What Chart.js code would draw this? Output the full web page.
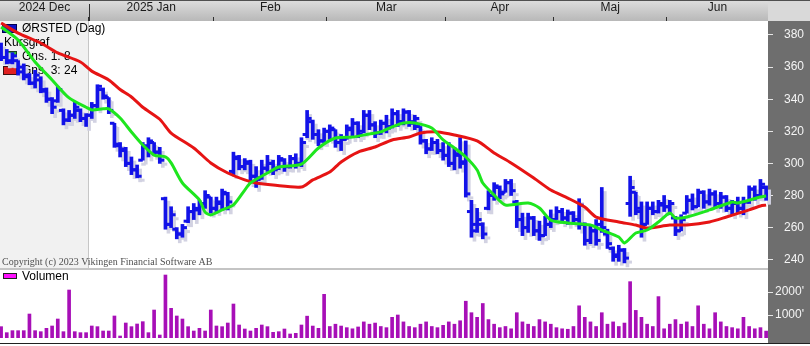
<!DOCTYPE html>
<html><head><meta charset="utf-8">
<script src="https://cdn.jsdelivr.net/npm/chart.js@4/dist/chart.umd.min.js"></script>
<style>
html,body{margin:0;padding:0;background:#fff;}
#wrap{position:relative;width:810px;height:346px;overflow:hidden;background:#fff;}
#rp{position:absolute;left:768px;top:21px;width:42px;height:322px;background:#6e6e6e;}
#corner{position:absolute;left:768px;top:0;width:42px;height:21px;background:#d9d9d9;}
#sep{position:absolute;left:0;top:268px;width:768px;height:2px;background:#c4c4c4;}
#bline{position:absolute;left:0;top:343px;width:810px;height:1px;background:#202020;}
#tline{position:absolute;left:0;top:0;width:810px;height:1px;background:#505050;}
#cp{position:absolute;left:0;top:0;}
#cv{position:absolute;left:0;top:270px;}
</style></head><body>
<div id="wrap">
<div id="corner"></div><div id="rp"></div><div id="sep"></div>
<canvas id="cp" width="810" height="270"></canvas>
<canvas id="cv" width="810" height="73"></canvas>
<div id="bline"></div><div id="tline"></div>
</div>
<script>
// ---------- data ----------
const monthLabels = ['2024 Dec','2025 Jan','Feb','Mar','Apr','Maj','Jun'];
const monthStart  = [0,16,38,58,79,98,118];   // index of first trading day of each month
const priceTicks  = [240,260,280,300,320,340,360,380];
const volumeTicks = [1000,2000];

const opens = [372,366,363,364,360,355,350,352,345,340,339,333,327,330,333,328,
 330,336,346,341,325,311,309,300,296,302,310,313,307,278,262,259,256,264,270,271,275,279,
 272,275,281,295,304,298,300,292,291,297,300,297,302,298,303,300,318,326,318,314,
 320,321,313,315,321,325,320,330,324,319,325,323,331,326,332,326,323,314,309,313,308,
 305,300,305,300,270,262,262,272,280,285,282,288,276,265,260,266,258,255,262,
 265,270,266,269,265,262,252,258,262,256,247,242,246,275,282,270,262,272,270,274,
 273,266,258,269,277,273,282,276,281,275,279,272,275,272,276,284,280,285];
const highs = [375,371,369,364,362,356,358,354,347,341,348,334,333,338,334,331,
 338,349,347,341,325,313,310,304,299,313,316,313,310,279,273,260,262,273,275,277,283,279,
 279,284,282,307,305,303,302,298,302,305,302,305,303,305,306,316,333,327,321,322,
 324,321,318,324,328,326,333,333,326,327,330,334,333,334,333,330,323,315,316,315,313,
 313,310,316,314,277,272,263,283,288,286,290,290,277,269,269,267,264,267,271,
 273,272,271,270,278,263,262,265,285,259,248,249,247,292,282,276,276,276,277,280,
 277,267,268,280,281,284,283,284,283,282,280,277,279,279,286,286,290,286];
const lows = [364,362,362,355,352,349,347,344,338,331,338,324,326,328,326,323,
 328,334,340,331,310,304,298,293,291,302,304,305,300,259,260,253,254,263,265,268,272,269,
 270,271,271,293,296,296,288,285,290,295,293,296,295,297,297,298,316,315,311,313,
 315,310,308,315,316,316,319,321,316,318,319,322,323,324,323,321,312,306,308,306,302,
 298,296,297,279,254,257,253,271,277,278,282,280,260,255,257,255,252,255,260,
 265,263,262,263,259,249,250,249,257,247,239,239,238,267,268,254,262,268,269,270,
 268,255,258,269,271,273,272,274,272,272,270,268,269,268,275,277,279,277];
const closes = [366,364,367,357,354,350,355,346,340,335,346,327,330,335,328,330,
 336,348,342,333,312,308,300,296,292,311,314,307,302,262,268,256,260,270,272,275,280,272,
 276,282,276,303,298,301,292,290,297,300,296,303,298,303,300,313,328,318,314,320,
 322,313,315,322,325,318,330,324,319,325,322,331,326,332,325,328,314,309,313,308,305,
 300,306,301,281,258,265,256,280,286,281,288,283,265,260,266,258,255,262,265,
 270,266,269,265,274,252,258,252,260,250,243,246,241,285,272,262,272,270,275,273,
 275,258,265,277,273,282,276,281,275,279,272,275,272,276,284,280,287,281];
const volumes = [493,232,319,319,319,1043,319,275,420,522,826,275,2087,275,232,232,
 522,493,304,304,957,87,652,493,609,710,232,1217,130,2739,1290,957,826,493,304,420,304,1217,
 522,493,652,1478,565,391,304,420,565,493,246,275,391,174,203,565,950,520,420,1900,
 500,600,520,450,400,480,700,600,650,500,450,900,1000,700,500,450,600,700,500,450,550,
 700,600,750,1600,1100,900,1500,800,600,450,500,400,1100,700,600,500,800,700,600,
 450,400,380,500,1400,900,700,500,1100,600,700,500,650,2450,1200,900,600,500,1800,400,
 600,800,600,700,500,1400,600,400,1100,700,500,450,400,900,500,400,450,300];

// moving averages (day index, value)
const ma8Day = [0,3,6,9,12,15,16,18,19,21,23,25,27,29,30,32,35,36,37,39,41,43,44,47,49,53,56,59,62,65,67,69,71,73,76,78,80,82,84,85,87,89,93,95,97,100,104,106,109,110,112,114,116,118,119,121,125,129,130,134,135];
const ma8Val = [385,376.9,363.2,352,340.8,335,333.3,334,334,328.3,319.6,311.5,305.2,304,300.3,287.8,277.2,269.7,267.9,271,274.1,283.4,287.8,294,297.8,299.6,309.6,315.8,316.4,318.3,319.6,322.7,325.2,325.2,322,314.6,309.6,304,295.9,287.8,280.3,274.1,275.3,272.2,264.7,262.9,261.6,258.5,254.1,250.4,256.6,258.5,263.5,269.1,266,266.6,271,276,275.3,279.1,279.7];
const ma24Day = [0,3,7,10,14,16,19,21,23,25,28,30,34,37,40,43,45,48,53,55,58,60,63,66,69,72,74,77,80,84,87,90,94,97,100,103,105,109,112,114,118,121,125,128,132,134,135];
const ma24Val = [387.5,381.2,375,368.8,363.2,357.5,352,346,341.4,335,327.5,318.9,309.6,300.3,294,289.7,287.8,286.5,285.3,289.7,294.6,300.9,307.1,310.2,314.6,316.4,318.9,319.6,317.7,314,306.5,300.3,290.9,283.4,278.4,272.8,266.6,263.5,261.6,259.7,261.6,261.6,263.5,266.6,271,273.5,274];

// ---------- layout helpers ----------
const XMIN = -0.194, XMAX = 135.33;
const boundaries = monthStart.slice(1).map(s => s - 0.5);
const labelAt = new Map();
monthStart.forEach((s, m) => {
  const a = m === 0 ? XMIN : s - 0.5;
  const b = m === monthStart.length - 1 ? XMAX : monthStart[m + 1] - 0.5;
  labelAt.set(((a + b) / 2).toFixed(3), monthLabels[m]);
});
const xTickVals = [...boundaries, ...[...labelAt.keys()].map(Number)].sort((a, b) => a - b);
const isBoundary = v => boundaries.some(b => Math.abs(b - v) < 1e-6);
const yearSep = boundaries[0];

Chart.defaults.font.family = '"Liberation Sans", Arial, sans-serif';
Chart.defaults.font.size = 12;

const BLUE = '#1212e8', SHADOW = '#d2d2e2';
const pts = arr => arr.map((v, i) => ({x: i, y: v}));
const rng = (a, b) => a.map((v, i) => ({x: i, y: [v, b[i]]}));

const cp = document.getElementById('cp');
const grad = cp.getContext('2d').createLinearGradient(0, 0, 0, 21);
grad.addColorStop(0, '#dedede');
grad.addColorStop(1, '#b8b8b8');

const shadowPlugin = {
  id: 'shadow',
  beforeDatasetDraw(chart, args) {
    if (chart.data.datasets[args.index].shadow) { chart.ctx.save(); chart.ctx.translate(3, 4); }
  },
  afterDatasetDraw(chart, args) {
    if (chart.data.datasets[args.index].shadow) chart.ctx.restore();
  }
};

const priceDeco = {
  id: 'priceDeco',
  beforeDraw(chart) {
    const {ctx, chartArea: ca, scales: {x}} = chart;
    ctx.save();
    ctx.fillStyle = '#f1f1f1';
    const xs = x.getPixelForValue(yearSep);
    ctx.fillRect(ca.left, ca.top, xs - ca.left, ca.bottom - ca.top);
    ctx.restore();
  },
  beforeDatasetsDraw(chart) {
    const ctx = chart.ctx;
    ctx.save();
    ctx.font = '12px "Liberation Sans", Arial, sans-serif';
    ctx.textBaseline = 'middle';
    ctx.fillStyle = '#1010c8'; ctx.fillRect(2, 24, 15, 9);
    ctx.strokeStyle = '#000050'; ctx.lineWidth = 1; ctx.strokeRect(2.5, 24.5, 14, 8);
    ctx.fillStyle = '#000'; ctx.fillText('ØRSTED (Dag)', 22, 29);
    ctx.fillText('Kursgraf', 4, 43);
    ctx.fillStyle = '#30c030'; ctx.fillRect(5, 51, 12, 10);
    ctx.strokeStyle = '#204020'; ctx.strokeRect(5.5, 51.5, 11, 9);
    ctx.fillStyle = '#000'; ctx.fillText('Gns. 1: 8', 22, 57);
    ctx.fillStyle = '#e02020'; ctx.fillRect(3, 66, 14, 9);
    ctx.strokeStyle = '#401010'; ctx.strokeRect(3.5, 66.5, 13, 8);
    ctx.fillStyle = '#000'; ctx.fillText('Gns. 3: 24', 22, 71);
    ctx.font = '10px "Liberation Serif", "Times New Roman", serif';
    ctx.fillStyle = '#505050';
    ctx.textBaseline = 'alphabetic';
    ctx.fillText('Copyright (c) 2023 Vikingen Financial Software AB', 2, 265);
    ctx.restore();
  },
  afterDraw(chart) {
    const {ctx, scales: {x}} = chart;
    const xs = Math.round(x.getPixelForValue(yearSep)) + 0.5;
    ctx.save();
    ctx.strokeStyle = '#303030'; ctx.lineWidth = 1;
    ctx.beginPath(); ctx.moveTo(xs, 4); ctx.lineTo(xs, 21); ctx.stroke();
    ctx.restore();
  }
};

const fitY = w => s => { s.width = w; s.paddingTop = 0; s.paddingBottom = 0; };

new Chart(cp, {
  type: 'bar',
  data: {
    datasets: [
      {type: 'line', data: ma8Day.map((d, i) => ({x: d, y: ma8Val[i]})), borderColor: '#1ee61e', borderWidth: 3, pointRadius: 0, tension: 0.25, order: 0},
      {type: 'line', data: ma24Day.map((d, i) => ({x: d, y: ma24Val[i]})), borderColor: '#e61414', borderWidth: 3, pointRadius: 0, tension: 0.25, order: 0.5},
      {type: 'line', data: pts(opens), showLine: false, pointStyle: 'dash', pointRotation: 180, pointRadius: 4.5, pointBorderWidth: 3, pointBorderColor: BLUE, pointBackgroundColor: BLUE, order: 1},
      {type: 'line', data: pts(closes), showLine: false, pointStyle: 'dash', pointRotation: 0, pointRadius: 4.5, pointBorderWidth: 3, pointBorderColor: BLUE, pointBackgroundColor: BLUE, order: 1},
      {data: rng(lows, highs), backgroundColor: BLUE, barThickness: 3, grouped: false, order: 2},
      {type: 'line', shadow: true, data: pts(opens), showLine: false, pointStyle: 'dash', pointRotation: 180, pointRadius: 4.5, pointBorderWidth: 3, pointBorderColor: SHADOW, pointBackgroundColor: SHADOW, order: 3},
      {type: 'line', shadow: true, data: pts(closes), showLine: false, pointStyle: 'dash', pointRotation: 0, pointRadius: 4.5, pointBorderWidth: 3, pointBorderColor: SHADOW, pointBackgroundColor: SHADOW, order: 3},
      {shadow: true, data: rng(lows, highs), backgroundColor: SHADOW, barThickness: 3, grouped: false, order: 4}
    ]
  },
  options: {
    responsive: false, animation: false, events: [],
    layout: {autoPadding: false, padding: {left: 0, right: 0, top: 0, bottom: 2}},
    plugins: {legend: {display: false}, tooltip: {enabled: false}},
    scales: {
      x: {
        type: 'linear', position: 'top', min: XMIN, max: XMAX, offset: false,
        backgroundColor: grad,
        afterBuildTicks: s => { s.ticks = xTickVals.map(v => ({value: v})); },
        afterFit: s => { s.height = 21; s.paddingLeft = 0; s.paddingRight = 0; },
        ticks: {autoSkip: false, maxRotation: 0, padding: 2, color: '#1a1a1a', font: {size: 12},
          callback: v => labelAt.get(Number(v).toFixed(3)) || ''},
        grid: {
          offset: false, drawOnChartArea: true, tickLength: 4, lineWidth: 1,
          color: c => (c.tick && Math.abs(c.tick.value - yearSep) < 1e-6) ? '#c6c6c6' : 'rgba(0,0,0,0)',
          tickColor: c => (c.tick && isBoundary(c.tick.value)) ? '#303030' : 'rgba(0,0,0,0)'
        },
        border: {display: false}
      },
      y: {
        type: 'linear', position: 'right', min: 234.83, max: 388.72,
        afterBuildTicks: s => { s.ticks = priceTicks.map(v => ({value: v})); },
        afterFit: fitY(42),
        ticks: {color: '#f4f4f4', crossAlign: 'near', padding: 11, font: {size: 12}},
        grid: {drawOnChartArea: false, tickLength: 5, tickColor: '#e6e6e6', lineWidth: 1},
        border: {display: false}
      }
    }
  },
  plugins: [shadowPlugin, priceDeco]
});

const volDeco = {
  id: 'volDeco',
  beforeDatasetsDraw(chart) {
    const ctx = chart.ctx;
    ctx.save();
    ctx.fillStyle = '#ff10ff'; ctx.fillRect(3, 3, 14, 6);
    ctx.strokeStyle = '#202020'; ctx.lineWidth = 1; ctx.strokeRect(3.5, 3.5, 13, 5);
    ctx.font = '12px "Liberation Sans", Arial, sans-serif';
    ctx.textBaseline = 'middle'; ctx.fillStyle = '#000';
    ctx.fillText('Volumen', 22, 7);
    ctx.restore();
  }
};

new Chart(document.getElementById('cv'), {
  type: 'bar',
  data: {datasets: [{data: pts(volumes), backgroundColor: '#a70fb7', barThickness: 3, grouped: false}]},
  options: {
    responsive: false, animation: false, events: [],
    layout: {autoPadding: false, padding: {left: 0, right: 0, top: 0, bottom: 5}},
    plugins: {legend: {display: false}, tooltip: {enabled: false}},
    scales: {
      x: {type: 'linear', min: XMIN, max: XMAX, offset: false, display: false},
      y: {
        type: 'linear', position: 'right', min: 0, max: 2957,
        afterBuildTicks: s => { s.ticks = volumeTicks.map(v => ({value: v})); },
        afterFit: fitY(42),
        ticks: {color: '#f4f4f4', crossAlign: 'near', padding: 2, font: {size: 12}, callback: v => v + "'"},
        grid: {drawOnChartArea: false, tickLength: 5, tickColor: '#e6e6e6', lineWidth: 1},
        border: {display: false}
      }
    }
  },
  plugins: [volDeco]
});
</script>
</body></html>
